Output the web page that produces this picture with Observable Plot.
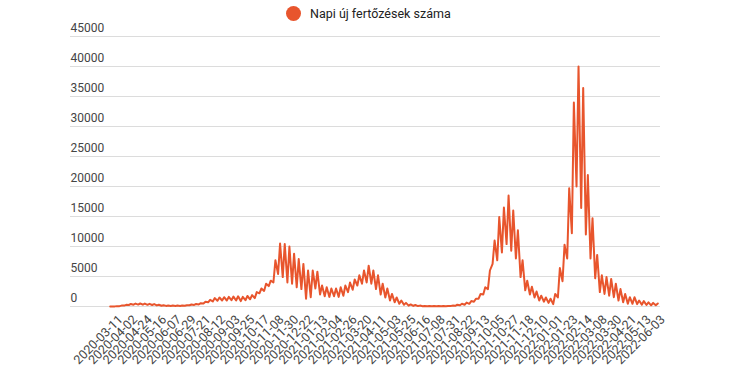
<!DOCTYPE html>
<html>
<head>
<meta charset="utf-8">
<script src="https://cdn.jsdelivr.net/npm/d3@7"></script>
<script src="https://cdn.jsdelivr.net/npm/@observablehq/plot@0.6"></script>
<style>
  html, body { margin: 0; padding: 0; background: #fff; }
  #wrap { position: relative; width: 736px; height: 385px; font-family: Roboto, sans-serif; }
  #legend { position: absolute; left: 286px; top: 5px; height: 16px; display: flex; align-items: center; font-size: 12.5px; color: #222; white-space: nowrap; }
  #legend .sw { width: 15px; height: 15px; border-radius: 50%; background: #e8552d; margin-right: 9px; }
  #chart { position: absolute; left: 0; top: 0; }
</style>
</head>
<body>
<div id="wrap">
  <div id="chart"></div>
  <div id="legend"><span class="sw"></span><span id="legendText"></span></div>
</div>
<script>
const seriesName = "Napi új fertőzések száma";
// first day of the weekly blocks; each week has a low (start) and a high (3 days later)
const firstWeek = "2020-02-29";
const lastDay = "2022-06-03";
const weeklyHigh = [
  20, 60, 150, 280, 420, 480, 500, 480, 450, 400,
  300, 220, 160, 150, 150, 170, 220, 330, 420, 550,
  800, 1100, 1400, 1500, 1550, 1600, 1650, 1700, 1600, 1750,
  1900, 2400, 3000, 3800, 4300, 7700, 10500, 10400, 10000, 8800,
  7900, 7100, 6000, 6000, 5800, 3500, 3200, 3000, 3000, 3200,
  3500, 4000, 4500, 5200, 6000, 6800, 6000, 5200, 3800, 3000,
  2100, 1500, 1000, 600, 350, 250, 150, 100, 80, 70,
  70, 80, 100, 150, 300, 450, 650, 900, 1300, 2100,
  3200, 6000, 11000, 14900, 16500, 18500, 16000, 12700, 7700, 4300,
  3300, 2500, 1800, 1500, 1300, 2100, 6400, 10300, 19700, 34000,
  40000, 36400, 21900, 14700, 8600, 5200, 4900, 4600, 3800, 2900,
  2100, 1550, 1550, 1000, 900, 700, 600, 500
];
const weeklyLow = [
  0, 20, 60, 150, 250, 300, 320, 300, 280, 250,
  180, 130, 100, 90, 90, 100, 130, 200, 260, 350,
  500, 700, 850, 950, 1000, 1000, 1050, 1000, 900, 1050,
  1200, 1400, 2200, 2600, 3400, 4000, 5400, 4900, 4000, 3800,
  3200, 2900, 1300, 1550, 3000, 2000, 1700, 1600, 1700, 1600,
  1800, 2400, 2800, 3500, 3800, 4000, 3800, 2900, 2000, 1500,
  1000, 700, 450, 280, 150, 100, 70, 50, 40, 30,
  30, 40, 50, 70, 120, 200, 300, 450, 800, 1300,
  2000, 2900, 7100, 7700, 9000, 10400, 9300, 8000, 4900, 2700,
  2000, 1500, 1000, 800, 600, 400, 1500, 4200, 8000, 12200,
  20000, 16400, 12000, 8000, 4700, 2400, 2100, 1800, 1550, 1000,
  700, 450, 450, 400, 300, 250, 200, 200
];
const xTickLabels = [
  "2020-03-11","2020-04-02","2020-04-24","2020-05-16","2020-06-07","2020-06-29",
  "2020-07-21","2020-08-12","2020-09-03","2020-09-25","2020-10-17","2020-11-08",
  "2020-11-30","2020-12-22","2021-01-13","2021-02-04","2021-02-26","2021-03-20",
  "2021-04-11","2021-05-03","2021-05-25","2021-06-16","2021-07-08","2021-07-31",
  "2021-08-22","2021-09-13","2021-10-05","2021-10-27","2021-11-18","2021-12-10",
  "2022-01-01","2022-01-23","2022-02-14","2022-03-08","2022-03-30","2022-04-21",
  "2022-05-13","2022-06-03"
];
const yTicks = [0, 5000, 10000, 15000, 20000, 25000, 30000, 35000, 40000, 45000];

document.getElementById("legendText").textContent = seriesName;

const parse = d3.utcParse("%Y-%m-%d");
const start = parse(firstWeek);
const points = [];
weeklyLow.forEach((lo, i) => {
  points.push({date: d3.utcDay.offset(start, 7 * i), value: lo});
  points.push({date: d3.utcDay.offset(start, 7 * i + 3), value: weeklyHigh[i]});
});
const tickDates = xTickLabels.map(parse);

const chart = Plot.plot({
  width: 736,
  height: 385,
  marginLeft: 70,
  marginRight: 76,
  marginTop: 36,
  marginBottom: 79,
  style: {fontFamily: "Roboto, sans-serif", fontSize: "12px", background: "transparent", overflow: "visible"},
  x: {type: "utc", domain: [start, parse(lastDay)], range: [109.7, 659.3]},
  y: {domain: [0, 45000], axis: null},
  marks: [
    Plot.ruleY(yTicks, {stroke: "#dcdcdc", strokeWidth: 1}),
    Plot.text(yTicks, {y: d => d, text: d => String(d), frameAnchor: "left", textAnchor: "start", dy: -8, fill: "#444", fontSize: 12}),
    Plot.axisX({
      ticks: tickDates,
      tickFormat: d3.utcFormat("%Y-%m-%d"),
      tickRotate: -45,
      tickSize: 0,
      tickPadding: 6,
      fill: "#444",
      fontSize: 12.5,
      label: null,
      dx: 3,
      dy: 5
    }),
    Plot.line(points, {x: "date", y: "value", stroke: "#e8552d", strokeWidth: 2})
  ]
});
document.getElementById("chart").appendChild(chart);
</script>
</body>
</html>
